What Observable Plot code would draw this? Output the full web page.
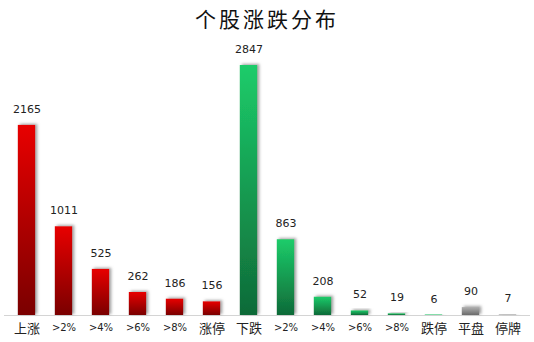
<!DOCTYPE html>
<html><head><meta charset="utf-8">
<script src="https://cdn.jsdelivr.net/npm/d3@7"></script>
<script src="https://cdn.jsdelivr.net/npm/@observablehq/plot@0.6"></script>
<style>
body{margin:0;background:#fff;}
#title{height:40px;line-height:36px;text-align:center;font-family:"Noto Sans CJK SC",serif;font-size:21px;color:#111;letter-spacing:3px;}
</style></head>
<body>
<div id="title">个股涨跌分布</div>
<div id="chart"></div>
<script>
const categories = ["上涨", ">2%", ">4%", ">6%", ">8%", "涨停", "下跌", ">2%", ">4%", ">6%", ">8%", "跌停", "平盘", "停牌"];
const values = [2165, 1011, 525, 262, 186, 156, 2847, 863, 208, 52, 19, 6, 90, 7];
const groups = ["up","up","up","up","up","up","down","down","down","down","down","down","flat","flat"];

const data = categories.map((c, i) => ({i, label: c, value: values[i], group: groups[i]}));

const barOpts = (g, fill) => ({
  x: "i", y: "value", fill, filter: d => d.group === g,
  insetLeft: 9.8, insetRight: 9.8
});

const plot = Plot.plot({
  width: 534, height: 302,
  marginLeft: 4, marginRight: 4, marginTop: 25, marginBottom: 27,
  x: {type: "band", domain: d3.range(categories.length), padding: 0, label: null},
  y: {domain: [0, 2847], axis: null},
  style: {fontFamily: "'DejaVu Sans', 'Noto Sans CJK SC', sans-serif", fontSize: "11px", color: "#222"},
  marks: [
    Plot.ruleY([0], {stroke: "#d4d4d4", strokeWidth: 1.2}),
    Plot.barY(data, barOpts("up", "url(#gRed)")),
    Plot.barY(data, barOpts("down", "url(#gGreen)")),
    Plot.barY(data, barOpts("flat", "url(#gGray)")),
    Plot.text(data, {x: "i", y: "value", text: d => String(d.value), dy: -16, fontSize: 11, fill: "#222"}),
    Plot.axisX({tickSize: 0, tickPadding: 8, tickFormat: i => categories[i], fontSize: 11, label: null})
  ]
});

const svg = d3.select(plot);
const defs = svg.insert("defs", ":first-child");
function grad(id, top, bottom) {
  const g = defs.append("linearGradient").attr("id", id).attr("x1", 0).attr("y1", 0).attr("x2", 0).attr("y2", 1);
  g.append("stop").attr("offset", "0%").attr("stop-color", top);
  g.append("stop").attr("offset", "100%").attr("stop-color", bottom);
}
grad("gRed", "#e80000", "#7a0000");
grad("gGreen", "#1ccc6a", "#0f6a38");
grad("gGray", "#b0b0b0", "#6a6a6a");
const f = defs.append("filter").attr("id", "shadow").attr("x", "-50%").attr("y", "-50%").attr("width", "200%").attr("height", "200%");
f.append("feDropShadow").attr("dx", 2).attr("dy", -1).attr("stdDeviation", 1.8).attr("flood-color", "#777").attr("flood-opacity", 0.7);
svg.selectAll("g[aria-label='bar'] rect").attr("filter", "url(#shadow)");
svg.selectAll("g[aria-label='x-axis tick label'] text").each(function() {
  const t = d3.select(this).text();
  if (/[\u4e00-\u9fff]/.test(t)) d3.select(this).attr("font-size", 13);
  else d3.select(this).attr("font-size", 10);
});

document.getElementById("chart").appendChild(plot);
</script>
</body></html>
